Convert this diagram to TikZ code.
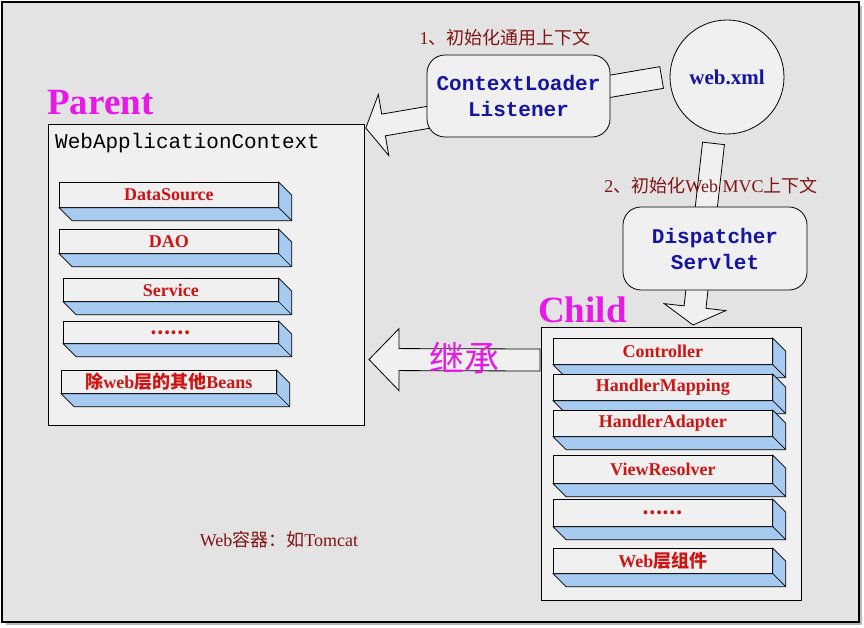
\documentclass[tikz,border=0pt]{standalone}
\usepackage{fontspec}
\setmainfont{Liberation Serif}
\setmonofont{Liberation Mono}
\newfontfamily\cjk{Noto Sans CJK SC}
\usepackage{tikz}
\usetikzlibrary{calc,positioning}

\definecolor{bggray}{RGB}{227,227,227}
\definecolor{boxgray}{RGB}{240,240,240}
\definecolor{depthblue}{RGB}{166,202,240}
\definecolor{beanred}{RGB}{208,20,20}
\definecolor{darkred}{RGB}{128,20,20}
\definecolor{navy}{RGB}{20,20,165}
\definecolor{pinkish}{RGB}{232,24,232}

\tikzset{
  box/.style={draw=black, fill=boxgray, line width=0.8pt},
  roundbox/.style={box, rounded corners=18pt, minimum width=183, minimum height=82,
    align=center, text=navy, font=\ttfamily\bfseries\fontsize{21}{26}\selectfont},
  beanface/.style={draw=black, fill=boxgray, line width=0.7pt, anchor=north west,
    inner sep=0pt, text=beanred, font=\bfseries\fontsize{18}{20}\selectfont},
  beandepth/.style={draw=black, fill=depthblue, line width=0.7pt},
  fatarrowstyle/.style={draw=black, fill=boxgray, line width=0.8pt},
  bigtitle/.style={anchor=base west, inner sep=0pt, text=pinkish,
    font=\bfseries\fontsize{37}{40}\selectfont},
  note/.style={inner sep=0pt, text=darkred},
}

% bean bar: name, top left of front face, width, height, text
\newcommand\bean[5]{%
  \node[beanface, minimum width=#3, minimum height=#4] (#1) at #2 {#5};
  \filldraw[beandepth] (#1.south west) -- ($(#1.south west)+(13,13)$)
    -- ($(#1.south east)+(13,13)$) -- ($(#1.north east)+(13,13)$)
    -- (#1.north east) -- (#1.south east) -- cycle;
  \draw[line width=0.7pt] (#1.south east) -- ++(13,13);}

% block arrow: start, tip, head length
\newcommand\fatarrow[3]{%
  \coordinate (fa-h) at ($(#2)!#3!(#1)$);
  \filldraw[fatarrowstyle] ($(#1)!11pt!90:(#2)$) -- ($(fa-h)!11pt!90:(#2)$)
    -- ($(fa-h)!31pt!90:(#2)$) -- (#2) -- ($(fa-h)!31pt!-90:(#2)$)
    -- ($(fa-h)!11pt!-90:(#2)$) -- ($(#1)!11pt!-90:(#2)$) -- cycle;}

\begin{document}
\begin{tikzpicture}[x=1pt, y=-1pt]
  \useasboundingbox (0,0) rectangle (864,628);
  % frame
  \fill[gray!55] (6,6) rectangle (862,625);
  \filldraw[fill=bggray, draw=black, line width=1.6pt] (2,2) rectangle (859,622);

  % parent context
  \node[box, anchor=north west, minimum width=316, minimum height=301] (wac) at (48,124) {};
  \node[anchor=west, inner sep=0pt, font=\ttfamily\fontsize{21}{24}\selectfont] (wactitle) at (55,143) {WebApplicationContext};
  \node[bigtitle] (parent) at (47,115) {Parent};
  \bean{ds}{(59,182)}{219}{25}{DataSource}
  \bean{dao}{(59,229)}{219}{24}{DAO}
  \bean{svc}{(63,278)}{215}{23}{Service}
  \bean{pdots}{(63,321)}{215}{22}{{\cjk ……}}
  \bean{others}{(61,370)}{215}{23}{{\cjk 除}web{\cjk 层的其他}Beans}

  % child context
  \node[box, anchor=north west, minimum width=260, minimum height=273] (child) at (541,327) {};
  \node[bigtitle] (childlbl) at (538,322) {Child};
  \bean{ctrl}{(553,338)}{219}{26}{Controller}
  \bean{hmap}{(553,374)}{219}{26}{HandlerMapping}
  \bean{hadp}{(553,410)}{219}{26}{HandlerAdapter}
  \bean{vres}{(553,455)}{219}{28}{ViewResolver}
  \bean{cdots}{(553,499)}{219}{27}{{\cjk ……}}
  \bean{webc}{(553,548)}{219}{25}{Web{\cjk 层组件}}

  % web.xml and the two loaders
  \node[box, circle, minimum size=114, text=navy, font=\bfseries\fontsize{21}{24}\selectfont] (xml) at (727,77) {web.xml};
  \coordinate (xmlout) at ($(xml.west)+(-8,0.5)$);
  \coordinate (wacin) at ($(wac.north east)+(1,4)$);
  \fatarrow{xmlout}{wacin}{18pt}
  \node[roundbox] (cll) at (518.5,96) {ContextLoader\\Listener};
  \node[note, font=\fontsize{18}{20}\selectfont] (step1) at (505,38) {1{\cjk 、初始化通用上下文}};

  \coordinate (xmldown) at ($(xml.south)+(-13.5,9)$);
  \coordinate (childin) at (693,325);
  \fatarrow{xmldown}{childin}{18pt}
  \node[roundbox, minimum width=184, minimum height=83] (disp) at (715,248.5) {Dispatcher\\Servlet};
  \node[note, font=\fontsize{18}{20}\selectfont] (step2) at (711,186) {2{\cjk 、初始化}Web MVC{\cjk 上下文}};

  % inheritance
  \coordinate (childout) at ($(child.north west)+(-1,33)$);
  \coordinate (wacback) at (369,359.5);
  \fatarrow{childout}{wacback}{30pt}
  \node[inner sep=0pt, text=pinkish, font=\cjk\fontsize{35}{38}\selectfont] (inherit) at (464,358) {继承};

  \node[note, font=\fontsize{18}{20}\selectfont] (container) at (279,540) {Web{\cjk 容器：如}Tomcat};
\end{tikzpicture}
\end{document}
